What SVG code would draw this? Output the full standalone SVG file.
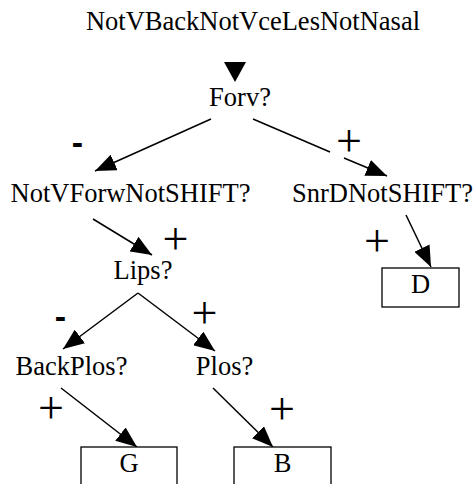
<svg xmlns="http://www.w3.org/2000/svg" width="473" height="484" viewBox="0 0 473 484">
<style>
.lbl{font-family:"Liberation Serif","Times New Roman",serif;font-size:26.5px;fill:#000;text-anchor:middle}
.pl{font-family:"Liberation Serif","Times New Roman",serif;font-size:46px;fill:#000;text-anchor:middle}
.mn{font-family:"Liberation Sans",Arial,sans-serif;font-size:34px;font-weight:bold;fill:#000;text-anchor:middle}
.box{fill:#fff;stroke:#000;stroke-width:1.3}
.edge{fill:none;stroke:#000;stroke-width:1.5;marker-end:url(#ah)}
</style>
<defs>
<marker id="ah" markerUnits="userSpaceOnUse" markerWidth="21" markerHeight="17" refX="21" refY="8.5" orient="auto">
<path d="M0,0 L21,8.5 L0,17 Z" fill="#000"/>
</marker>
</defs>
<rect width="473" height="484" fill="#fff"/>
<g id="connectors">
<polygon points="224,62 246,62 235,82" fill="#000"/>
<path class="edge" d="M211,119 L95,171"/>
<path class="edge" d="M253,119 L330,152 M344,158 L387,176"/>
<path class="edge" d="M93,219 L152,255"/>
<path class="edge" d="M406,215 L431,267"/>
<path class="edge" d="M138,293 L63,349"/>
<path class="edge" d="M138,293 L215,351"/>
<path class="edge" d="M61,388 L137,447"/>
<path class="edge" d="M213,388 L273,447"/>
<text class="mn" x="77.5" y="154">-</text>
<text class="pl" x="349" y="156">+</text>
<text class="pl" x="175.5" y="254">+</text>
<text class="pl" x="377" y="256">+</text>
<text class="mn" x="60.5" y="328">-</text>
<text class="pl" x="204.5" y="328">+</text>
<text class="pl" x="51" y="423">+</text>
<text class="pl" x="282" y="424">+</text>
</g>
<g id="title"><text class="lbl" x="253" y="30">NotVBackNotVceLesNotNasal</text></g>
<g id="forv"><text class="lbl" x="240" y="106">Forv?</text></g>
<g id="notvforw"><text class="lbl" x="130.5" y="202">NotVForwNotSHIFT?</text></g>
<g id="snrd"><text class="lbl" x="382.5" y="202">SnrDNotSHIFT?</text></g>
<g id="lips"><text class="lbl" x="143" y="279">Lips?</text></g>
<g id="backplos"><text class="lbl" x="71.5" y="375">BackPlos?</text></g>
<g id="plos"><text class="lbl" x="224.5" y="375">Plos?</text></g>
<g id="D"><rect class="box" x="382" y="268" width="77" height="39"/><text class="lbl" x="420.5" y="293">D</text></g>
<g id="G"><rect class="box" x="81" y="447" width="96" height="40"/><text class="lbl" x="129" y="472">G</text></g>
<g id="B"><rect class="box" x="234" y="447" width="97" height="40"/><text class="lbl" x="282.5" y="472">B</text></g>
</svg>
